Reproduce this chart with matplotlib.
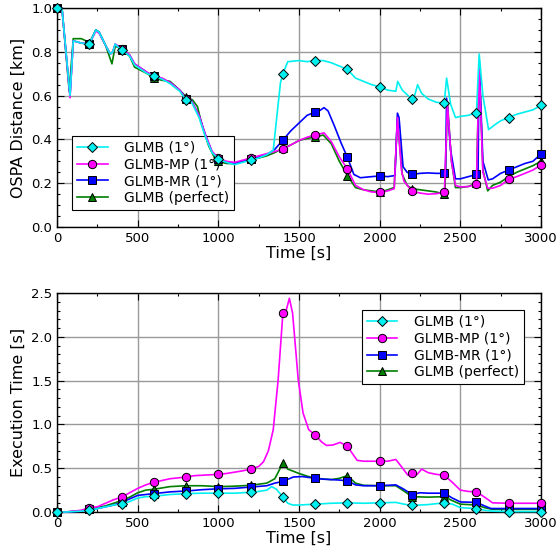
import numpy as np
import matplotlib
matplotlib.use("Agg")
import matplotlib.pyplot as plt
from matplotlib.ticker import MultipleLocator

labels = ["GLMB (1°)", "GLMB-MP (1°)", "GLMB-MR (1°)", "GLMB (perfect)"]

# ---------------- OSPA distance (top) ----------------
ospa_glmb_t = [0, 30, 80, 100, 150, 200, 240, 260, 300, 330, 345, 360, 380, 400, 450, 480, 520, 560, 600,
               650, 700, 760, 800, 830, 880, 920, 960, 1000, 1050, 1100, 1150, 1200, 1250, 1300, 1340, 1385,
               1400, 1430, 1500, 1550, 1600, 1650, 1700, 1750, 1800, 1850, 1900, 1950, 2000, 2050, 2100, 2112,
               2140, 2200, 2215, 2235, 2260, 2300, 2350, 2400, 2415, 2440, 2470, 2500, 2550, 2600, 2617, 2640,
               2675, 2720, 2750, 2800, 2850, 2900, 2950, 3000]
ospa_glmb_v = [1.0, 1.0, 0.60, 0.85, 0.84, 0.835, 0.90, 0.89, 0.83, 0.79, 0.80, 0.835, 0.82, 0.81, 0.78, 0.74,
               0.72, 0.70, 0.69, 0.675, 0.655, 0.62, 0.58, 0.575, 0.50, 0.41, 0.34, 0.31, 0.295, 0.285, 0.295,
               0.305, 0.315, 0.33, 0.35, 0.66, 0.70, 0.755, 0.76, 0.755, 0.76, 0.76, 0.75, 0.735, 0.72, 0.68,
               0.665, 0.65, 0.64, 0.625, 0.62, 0.665, 0.625, 0.583, 0.595, 0.65, 0.61, 0.585, 0.57, 0.565, 0.68,
               0.56, 0.50, 0.505, 0.51, 0.522, 0.79, 0.60, 0.445, 0.47, 0.485, 0.50, 0.515, 0.525, 0.535, 0.555]

ospa_mp_t = [0, 30, 80, 100, 150, 200, 240, 260, 300, 330, 345, 360, 380, 400, 450, 480, 520, 560, 600, 650,
             700, 760, 800, 830, 880, 920, 960, 1000, 1050, 1100, 1150, 1200, 1250, 1300, 1350, 1400, 1450, 1500,
             1550, 1600, 1655, 1700, 1750, 1800, 1850, 1900, 1950, 2000, 2050, 2090, 2110, 2135, 2150, 2200,
             2250, 2300, 2350, 2400, 2402, 2420, 2445, 2470, 2500, 2550, 2600, 2617, 2640, 2670, 2700, 2750,
             2800, 2850, 2900, 2950, 3000]
ospa_mp_v = [1.0, 1.0, 0.59, 0.85, 0.84, 0.835, 0.895, 0.885, 0.83, 0.79, 0.80, 0.835, 0.825, 0.815, 0.785,
             0.745, 0.725, 0.705, 0.69, 0.68, 0.66, 0.625, 0.585, 0.58, 0.51, 0.42, 0.345, 0.315, 0.30, 0.295,
             0.305, 0.315, 0.325, 0.335, 0.345, 0.356, 0.375, 0.395, 0.41, 0.42, 0.43, 0.39, 0.32, 0.265, 0.19,
             0.17, 0.16, 0.158, 0.165, 0.175, 0.50, 0.26, 0.21, 0.164, 0.155, 0.15, 0.152, 0.158, 0.17, 0.56,
             0.30, 0.19, 0.183, 0.185, 0.195, 0.73, 0.25, 0.177, 0.177, 0.19, 0.218, 0.23, 0.245, 0.26, 0.283]

ospa_mr_t = [0, 30, 80, 100, 150, 200, 240, 260, 300, 330, 345, 360, 380, 400, 450, 480, 520, 560, 600, 650,
             700, 760, 800, 830, 880, 920, 960, 1000, 1050, 1100, 1150, 1200, 1250, 1300, 1350, 1400, 1450, 1500,
             1550, 1600, 1625, 1655, 1680, 1720, 1760, 1800, 1840, 1880, 1950, 2000, 2050, 2095, 2110, 2120,
             2145, 2170, 2200, 2250, 2300, 2350, 2400, 2408, 2415, 2440, 2470, 2500, 2550, 2600, 2610, 2617,
             2640, 2673, 2700, 2720, 2750, 2800, 2850, 2900, 2950, 3000]
ospa_mr_v = [1.0, 1.0, 0.60, 0.85, 0.84, 0.835, 0.90, 0.89, 0.83, 0.79, 0.80, 0.835, 0.825, 0.815, 0.785,
             0.745, 0.725, 0.705, 0.69, 0.678, 0.66, 0.625, 0.585, 0.58, 0.51, 0.42, 0.345, 0.31, 0.295, 0.29,
             0.30, 0.31, 0.32, 0.33, 0.355, 0.397, 0.44, 0.475, 0.51, 0.525, 0.53, 0.545, 0.53, 0.46, 0.385,
             0.318, 0.24, 0.225, 0.23, 0.233, 0.23, 0.235, 0.52, 0.50, 0.275, 0.25, 0.24, 0.245, 0.247, 0.245,
             0.245, 0.26, 0.588, 0.35, 0.22, 0.22, 0.23, 0.24, 0.26, 0.76, 0.30, 0.215, 0.22, 0.23, 0.245, 0.26,
             0.275, 0.29, 0.30, 0.333]

ospa_perf_t = [0, 30, 75, 100, 150, 180, 200, 240, 260, 300, 340, 360, 380, 400, 450, 480, 520, 560, 600, 650,
               700, 760, 800, 840, 870, 900, 940, 980, 1000, 1050, 1100, 1150, 1200, 1250, 1300, 1350, 1400,
               1450, 1500, 1550, 1600, 1650, 1700, 1750, 1800, 1850, 1900, 1950, 2000, 2050, 2090, 2110, 2140,
               2170, 2200, 2250, 2300, 2350, 2400, 2405, 2420, 2445, 2470, 2500, 2550, 2600, 2617, 2640, 2670,
               2700, 2750, 2800, 2850, 2900, 2950, 3000]
ospa_perf_v = [1.0, 1.0, 0.62, 0.86, 0.86, 0.85, 0.84, 0.90, 0.89, 0.83, 0.745, 0.825, 0.82, 0.81, 0.78, 0.73,
               0.715, 0.70, 0.68, 0.67, 0.665, 0.625, 0.595, 0.58, 0.55, 0.46, 0.37, 0.31, 0.30, 0.29, 0.29,
               0.30, 0.31, 0.315, 0.325, 0.34, 0.36, 0.375, 0.395, 0.405, 0.41, 0.42, 0.38, 0.30, 0.235, 0.18,
               0.17, 0.165, 0.16, 0.17, 0.18, 0.49, 0.24, 0.19, 0.175, 0.17, 0.165, 0.16, 0.15, 0.17, 0.57, 0.30,
               0.18, 0.18, 0.185, 0.20, 0.74, 0.26, 0.165, 0.19, 0.205, 0.23, 0.25, 0.265, 0.28, 0.30]

# ---------------- Execution time (bottom) ----------------
exec_glmb_t = [0, 50, 150, 200, 250, 300, 350, 400, 450, 500, 550, 600, 650, 700, 800, 900, 1000, 1100, 1200,
               1250, 1300, 1330, 1360, 1400, 1430, 1460, 1500, 1600, 1700, 1800, 1900, 2000, 2100, 2150, 2200,
               2300, 2400, 2450, 2500, 2600, 2650, 2700, 2800, 3000]
exec_glmb_v = [0.0, 0.0, 0.01, 0.02, 0.04, 0.06, 0.08, 0.09, 0.12, 0.16, 0.175, 0.18, 0.19, 0.20, 0.21, 0.215,
               0.215, 0.215, 0.225, 0.235, 0.25, 0.29, 0.26, 0.17, 0.10, 0.08, 0.08, 0.09, 0.10, 0.105, 0.10,
               0.105, 0.11, 0.09, 0.075, 0.085, 0.105, 0.09, 0.05, 0.04, 0.02, 0.01, 0.005, 0.005]

exec_mp_t = [0, 50, 150, 200, 250, 300, 350, 400, 450, 500, 550, 600, 650, 700, 750, 800, 850, 900, 950, 1000,
             1050, 1100, 1150, 1200, 1250, 1280, 1310, 1340, 1370, 1400, 1420, 1440, 1460, 1495, 1525, 1560,
             1600, 1640, 1670, 1710, 1755, 1800, 1830, 1860, 1900, 2000, 2050, 2100, 2130, 2175, 2200, 2230,
             2260, 2300, 2350, 2400, 2450, 2500, 2550, 2600, 2650, 2700, 2800, 3000]
exec_mp_v = [0.0, 0.0, 0.02, 0.05, 0.06, 0.10, 0.14, 0.17, 0.22, 0.27, 0.31, 0.34, 0.36, 0.38, 0.39, 0.40,
             0.415, 0.42, 0.425, 0.43, 0.44, 0.455, 0.47, 0.49, 0.52, 0.575, 0.70, 0.94, 1.5, 2.275, 2.30, 2.44,
             2.27, 1.51, 1.13, 0.94, 0.88, 0.80, 0.76, 0.765, 0.795, 0.75, 0.67, 0.59, 0.58, 0.58, 0.58, 0.60,
             0.53, 0.42, 0.44, 0.425, 0.49, 0.45, 0.43, 0.42, 0.34, 0.25, 0.235, 0.23, 0.17, 0.105, 0.10, 0.10]

exec_mr_t = [0, 50, 150, 200, 250, 300, 350, 400, 450, 500, 550, 600, 700, 800, 900, 1000, 1100, 1200, 1300,
             1350, 1400, 1465, 1520, 1560, 1600, 1650, 1700, 1750, 1800, 1850, 1900, 2000, 2100, 2150, 2200,
             2250, 2300, 2400, 2450, 2500, 2600, 2650, 2690, 2800, 3000]
exec_mr_v = [0.0, 0.0, 0.01, 0.03, 0.04, 0.06, 0.08, 0.11, 0.15, 0.19, 0.20, 0.21, 0.23, 0.24, 0.255, 0.265,
             0.27, 0.285, 0.30, 0.33, 0.35, 0.40, 0.405, 0.395, 0.385, 0.375, 0.37, 0.365, 0.355, 0.31, 0.30,
             0.30, 0.31, 0.26, 0.20, 0.22, 0.215, 0.215, 0.16, 0.115, 0.11, 0.07, 0.04, 0.04, 0.04]

exec_perf_t = [0, 50, 150, 200, 250, 300, 350, 400, 450, 500, 550, 600, 700, 800, 900, 1000, 1100, 1200, 1300,
               1350, 1400, 1430, 1500, 1550, 1600, 1700, 1750, 1800, 1850, 1900, 2000, 2100, 2150, 2200, 2300,
               2400, 2450, 2500, 2600, 2650, 2700, 2800, 3000]
exec_perf_v = [0.0, 0.0, 0.015, 0.04, 0.05, 0.07, 0.10, 0.13, 0.17, 0.22, 0.25, 0.26, 0.29, 0.30, 0.30, 0.29,
               0.295, 0.305, 0.33, 0.38, 0.56, 0.49, 0.44, 0.41, 0.385, 0.37, 0.385, 0.415, 0.33, 0.305, 0.30,
               0.30, 0.24, 0.175, 0.17, 0.175, 0.13, 0.09, 0.08, 0.05, 0.03, 0.03, 0.03]

colors = ["#00f0f0", "#ff00ff", "#0000ff", "#007f00"]
markers = ["D", "o", "s", "^"]
msizes = [5, 6, 5.5, 6]
zorders = [5, 4, 3, 2]

plt.rcParams['font.family'] = ['DejaVu Sans']

fig = plt.figure(figsize=(5.6, 5.53), dpi=100)
ax1 = fig.add_axes([0.102, 0.5895, 0.864, 0.396])
ax2 = fig.add_axes([0.102, 0.0741, 0.864, 0.396])

def draw(ax, series):
    for i, (t, v) in enumerate(series):
        t = np.asarray(t)
        idx = [k for k, tt in enumerate(t) if tt % 200 == 0]
        ax.plot(t, v, color=colors[i], lw=1.2, marker=markers[i], markersize=msizes[i],
                markeredgecolor='black', markeredgewidth=0.7, markevery=idx,
                label=labels[i], zorder=zorders[i], clip_on=False)

draw(ax1, [(ospa_glmb_t, ospa_glmb_v), (ospa_mp_t, ospa_mp_v), (ospa_mr_t, ospa_mr_v), (ospa_perf_t, ospa_perf_v)])
draw(ax2, [(exec_glmb_t, exec_glmb_v), (exec_mp_t, exec_mp_v), (exec_mr_t, exec_mr_v), (exec_perf_t, exec_perf_v)])

for ax, ymax, ymaj, ymin in [(ax1, 1.0, 0.2, 0.05), (ax2, 2.5, 0.5, 0.1)]:
    ax.set_xlim(0, 3000)
    ax.set_ylim(0, ymax)
    ax.xaxis.set_major_locator(MultipleLocator(500))
    ax.xaxis.set_minor_locator(MultipleLocator(250))
    ax.yaxis.set_major_locator(MultipleLocator(ymaj))
    ax.yaxis.set_minor_locator(MultipleLocator(ymin))
    ax.yaxis.set_major_formatter(matplotlib.ticker.FormatStrFormatter('%.1f'))
    ax.tick_params(which='both', direction='in', top=True, right=True, labelsize=9.5)
    ax.tick_params(which='major', length=5, width=0.8)
    ax.tick_params(which='minor', length=2.5, width=0.8)
    ax.grid(True, which='major', color='#999999', lw=1.0, zorder=0)
    ax.set_axisbelow(True)
    ax.set_xlabel("Time [s]", fontsize=11.5, labelpad=1)
    for s in ax.spines.values():
        s.set_linewidth(1.0)

ax1.set_ylabel("OSPA Distance [km]", fontsize=11.5)
ax2.set_ylabel("Execution Time [s]", fontsize=11.5)

leg_kw = dict(fontsize=10, fancybox=False, edgecolor='black', framealpha=1, borderaxespad=0,
              handlelength=2.2, handletextpad=1.2, labelspacing=0.2, borderpad=0.35)
l1 = ax1.legend(loc='lower left', bbox_to_anchor=(0.031, 0.078), **leg_kw)
l2 = ax2.legend(loc='upper right', bbox_to_anchor=(0.965, 0.922), **leg_kw)
for l in (l1, l2):
    l.get_frame().set_linewidth(0.8)
    l.set_zorder(1.5)

fig.savefig("out.png", dpi=100)
